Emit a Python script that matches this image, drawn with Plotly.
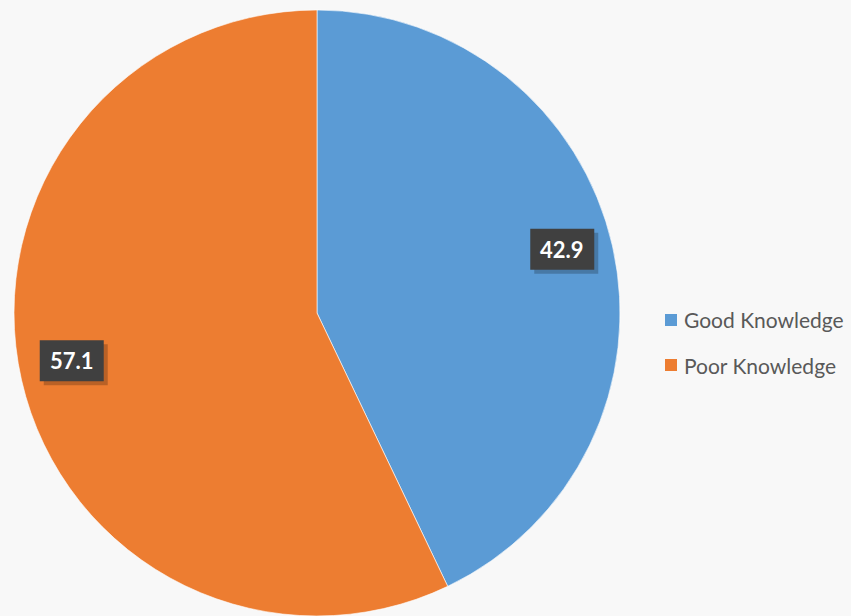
import math
import plotly.graph_objects as go

labels = ["Good Knowledge", "Poor Knowledge"]
values = [42.9, 57.1]
colors = ["#5B9BD5", "#ED7D31"]

W, H = 851, 616
cx, cy, r = 317, 313, 303
label_r = 0.83
box_w, box_h = 64, 41

fig = go.Figure()
fig.add_trace(go.Pie(
    labels=labels, values=values, sort=False, direction="clockwise", rotation=0,
    marker=dict(colors=colors, line=dict(color="rgba(255,255,255,0.6)", width=1)),
    textinfo="none", hoverinfo="label+value", showlegend=False,
    domain=dict(x=[(cx - r) / W, (cx + r) / W], y=[1 - (cy + r) / H, 1 - (cy - r) / H]),
))

total = sum(values)
cum = 0
for v in values:
    mid = (cum + v / 2) / total * 2 * math.pi
    cum += v
    px = cx + label_r * r * math.sin(mid)
    py = cy - label_r * r * math.cos(mid) - 8
    # drop shadow
    fig.add_shape(type="rect", xref="paper", yref="paper", layer="above",
                  x0=(px - box_w / 2 + 4) / W, x1=(px + box_w / 2 + 4) / W,
                  y0=1 - (py + box_h / 2 + 4) / H, y1=1 - (py - box_h / 2 + 4) / H,
                  fillcolor="rgba(0,0,0,0.22)", line=dict(width=0))
    fig.add_shape(type="rect", xref="paper", yref="paper", layer="above",
                  x0=(px - box_w / 2) / W, x1=(px + box_w / 2) / W,
                  y0=1 - (py + box_h / 2) / H, y1=1 - (py - box_h / 2) / H,
                  fillcolor="#404040", line=dict(width=0))
    fig.add_annotation(x=px / W, y=1 - py / H, xref="paper", yref="paper",
                       xanchor="center", yanchor="middle",
                       text=f"<b>{v}</b>", showarrow=False,
                       font=dict(family="Lato", size=22, color="white"))

# legend
leg_x, leg_y0, leg_dy, sq = 665, 320, 45, 12
for i, (lab, col) in enumerate(zip(labels, colors)):
    ly = leg_y0 + i * leg_dy
    fig.add_shape(type="rect", xref="paper", yref="paper",
                  x0=leg_x / W, x1=(leg_x + sq) / W,
                  y0=1 - (ly + sq / 2) / H, y1=1 - (ly - sq / 2) / H,
                  fillcolor=col, line=dict(width=0))
    fig.add_annotation(x=(leg_x + sq + 5) / W, y=1 - ly / H, xref="paper", yref="paper",
                       xanchor="left", yanchor="middle", text=lab, showarrow=False,
                       font=dict(family="Lato", size=21, color="#595959"))

fig.update_layout(
    width=W, height=H, margin=dict(l=0, r=0, t=0, b=0),
    paper_bgcolor="#f8f8f8", plot_bgcolor="#f8f8f8",
    showlegend=False,
)

fig.write_html("out.html", config={"displayModeBar": False},
               post_script="document.body.style.margin='0';")
